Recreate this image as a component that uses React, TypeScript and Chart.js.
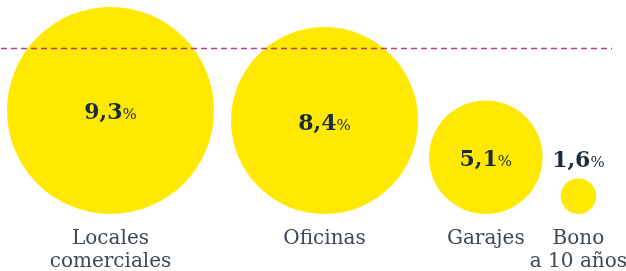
import React, { useEffect, useRef } from 'react';
import { Chart, registerables } from 'chart.js';

Chart.register(...registerables);

// ---- data ----
const categories: string[][] = [['Locales', 'comerciales'], ['Oficinas'], ['Garajes'], ['Bono', 'a 10 años']];
const values: number[] = [9.3, 8.4, 5.1, 1.6];
const valueLabels: string[] = ['9,3', '8,4', '5,1', '1,6'];
const gaps: number[] = [1.53, 0.99, 1.62]; // spacing between bubbles, in value units
const referenceLine = 14.9;

// ---- layout ----
const W = 626;
const H = 271;
const PX_PER_UNIT = 11.13;
const PAD = { left: 7, right: 19, top: 0, bottom: 57 };

const YELLOW = '#ffe900';
const NAVY = '#1c2b3b';
const LABEL = '#3d4852';

function centers(): number[] {
  const out: number[] = [];
  values.forEach((v, i) => {
    if (i === 0) out.push(v);
    else out.push(out[i - 1] + values[i - 1] + gaps[i - 1] + v);
  });
  return out;
}

const labelPlugin = {
  id: 'bubbleLabels',
  afterDatasetsDraw(chart: any) {
    const { ctx, chartArea, scales } = chart;
    const meta = chart.getDatasetMeta(0);
    ctx.save();
    // reference dashed line
    const yRef = Math.round(scales.y.getPixelForValue(referenceLine)) + 0.5;
    ctx.strokeStyle = 'rgba(170,30,120,0.85)';
    ctx.lineWidth = 1.6;
    ctx.setLineDash([6, 4]);
    ctx.beginPath();
    ctx.moveTo(1, yRef);
    ctx.lineTo(612, yRef);
    ctx.stroke();
    ctx.setLineDash([]);

    meta.data.forEach((el: any, i: number) => {
      const r = el.options.radius;
      const x = el.x;
      const cy = r > 30 ? el.y + 1 : el.y - r - 19;
      const numFont = 'bold 22px "DejaVu Serif"';
      const pctFont = '15px "DejaVu Serif"';
      ctx.font = numFont;
      const wNum = ctx.measureText(valueLabels[i]).width;
      ctx.font = pctFont;
      const wPct = ctx.measureText('%').width;
      const start = x - (wNum + wPct) / 2;
      ctx.textBaseline = 'alphabetic';
      ctx.textAlign = 'left';
      ctx.fillStyle = NAVY;
      ctx.font = numFont;
      ctx.fillText(valueLabels[i], start, cy + 8);
      ctx.font = pctFont;
      ctx.fillText('%', start + wNum, cy + 8);

      // category labels
      ctx.fillStyle = LABEL;
      ctx.font = '20px "DejaVu Serif"';
      ctx.textAlign = 'center';
      ctx.textBaseline = 'middle';
      categories[i].forEach((line, j) => {
        ctx.fillText(line, x, chartArea.bottom + 25 + j * 23);
      });
    });
    ctx.restore();
  },
};

export default function App() {
  const ref = useRef<HTMLCanvasElement | null>(null);
  useEffect(() => {
    if (!ref.current) return;
    const cx = centers();
    const plotH = H - PAD.top - PAD.bottom;
    const xMax = (W - PAD.left - PAD.right) / PX_PER_UNIT;
    const yMax = plotH / PX_PER_UNIT;
    // bubble radius equals its value measured on the y scale (so each circle sits on y = 0)
    const toPx = (v: number) => (v / yMax) * plotH;
    const chart = new Chart(ref.current, {
      type: 'bubble',
      data: {
        datasets: [
          {
            data: values.map((v, i) => ({ x: cx[i], y: v, r: toPx(v) })),
            backgroundColor: YELLOW,
            borderWidth: 0,
            clip: false,
          } as any,
        ],
      },
      options: {
        animation: false,
        responsive: false,
        events: [],
        layout: { padding: PAD, autoPadding: false } as any,
        scales: {
          x: { type: 'linear', display: false, min: 0, max: xMax },
          y: { type: 'linear', display: false, min: 0, max: yMax },
        },
        plugins: { legend: { display: false }, tooltip: { enabled: false } },
      },
      plugins: [labelPlugin],
    });
    return () => chart.destroy();
  }, []);
  return (
    <div style={{ position: 'absolute', left: 0, top: 0, width: W, height: H, background: '#fff' }}>
      <canvas ref={ref} width={W} height={H} />
    </div>
  );
}
